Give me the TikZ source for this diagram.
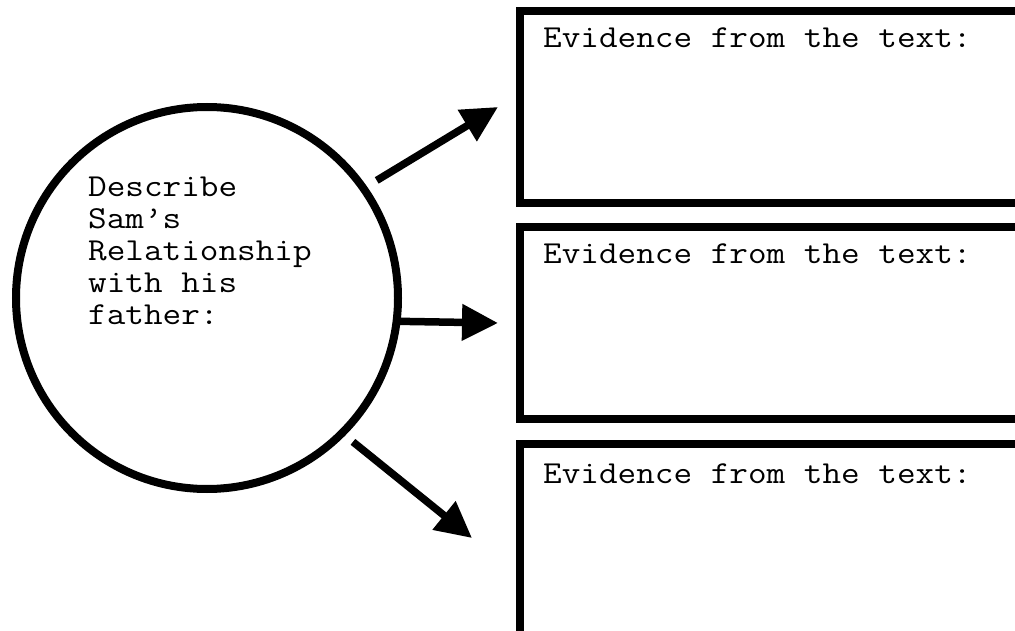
\documentclass[tikz,border=0pt]{standalone}
\usepackage{graphicx}
\usetikzlibrary{arrows.meta}
\begin{document}
\begin{tikzpicture}[x=1pt, y=-1pt,
  ring/.style={circle, draw, line width=8pt, minimum size=382pt, inner sep=0pt, outer sep=0pt},
  evbox/.style={rectangle, draw, line width=8pt, inner sep=0pt, outer sep=0pt, anchor=north west, minimum width=510pt},
  lbl/.style={inner sep=0pt, anchor=base west, font=\fontsize{32}{32}\selectfont\ttfamily},
  arr/.style={line width=7.5pt, -{Triangle[length=36pt,width=35pt]}}
]
\useasboundingbox (0,0) rectangle (1015,631);
\clip (0,0) rectangle (1015,631);
\fill[white] (0,0) rectangle (1015,631);

\node[ring] (c) at (207,298) {};
\node[lbl] (ct) at (88,197) {\scalebox{1.13}[1]{\parbox[t]{300pt}{\raggedright Describe\\Sam’s\\Relationship\\with his\\father:}}};

\node[evbox, minimum height=192pt] (b1) at (520,11) {};
\node[evbox, minimum height=192pt] (b2) at (520,227) {};
\node[evbox, minimum height=260pt] (b3) at (520,444) {};

\node[lbl] (b1t) at ([shift={(23,37)}]b1.north west) {\scalebox{1.13}[1]{Evidence from the text:}};
\node[lbl] (b2t) at ([shift={(23,37)}]b2.north west) {\scalebox{1.13}[1]{Evidence from the text:}};
\node[lbl] (b3t) at ([shift={(23,39)}]b3.north west) {\scalebox{1.13}[1]{Evidence from the text:}};

\coordinate (t1) at (498,107);
\coordinate (t2) at (498,323);
\coordinate (t3) at (472,538);

\draw[arr, shorten <=15.5pt] (c.35) -- (t1);
\draw[arr] (c.-7.5) -- (t2);
\draw[arr, shorten <=14pt] (c.-45) -- (t3);
\end{tikzpicture}
\end{document}
